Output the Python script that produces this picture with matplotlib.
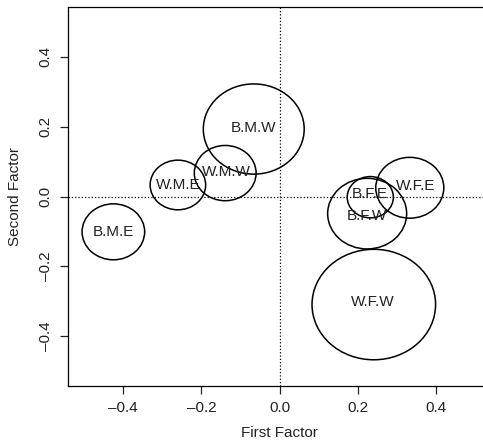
import matplotlib
matplotlib.use("Agg")
import matplotlib.pyplot as plt
from matplotlib.patches import Circle

plt.rcParams['font.family'] = ['Liberation Sans', 'DejaVu Sans']

# group labels, factor scores and circle radii (data units)
labels = ["B.M.E", "W.M.E", "W.M.W", "B.M.W", "B.F.E", "W.F.E", "B.F.W", "W.F.W"]
first_factor = [-0.425, -0.260, -0.139, -0.066, 0.232, 0.333, 0.224, 0.241]
second_factor = [-0.101, 0.033, 0.067, 0.193, -0.002, 0.025, -0.049, -0.309]
radius = [0.080, 0.071, 0.079, 0.129, 0.059, 0.087, 0.101, 0.158]
# where the labels sit (slightly off some circle centres)
label_x = [-0.425, -0.260, -0.135, -0.066, 0.230, 0.349, 0.224, 0.239]
label_y = [-0.101, 0.033, 0.069, 0.195, 0.007, 0.029, -0.057, -0.303]

xticks = [-0.4, -0.2, 0.0, 0.2, 0.4]
yticks = [-0.4, -0.2, 0.0, 0.2, 0.4]

fig = plt.figure(figsize=(4.83, 4.44), dpi=100)
ax = fig.add_axes([0.1408, 0.1306, 0.876, 0.8536])

for x, y, r in zip(first_factor, second_factor, radius):
    ax.add_patch(Circle((x, y), r, fill=False, edgecolor='black', linewidth=1.1))
for x, y, lab in zip(label_x, label_y, labels):
    ax.text(x, y, lab, ha='center', va='center', fontsize=11, color='#222222')

ax.axhline(0, color='black', linestyle=':', linewidth=0.9)
ax.axvline(0, color='black', linestyle=':', linewidth=0.9)

ax.set_xlim(-0.541, 0.541)
ax.set_ylim(-0.542, 0.542)
ax.set_xticks(xticks)
ax.set_yticks(yticks)
ax.set_xticklabels([f"{t:.1f}".replace('-', '\u2013') for t in xticks])
ax.set_yticklabels([f"{t:.1f}".replace('-', '\u2013') for t in yticks],
                   rotation=90, va='center')
ax.tick_params(direction='out', length=6, width=0.9, labelsize=11,
               colors='#222222', pad=5)
for s in ax.spines.values():
    s.set_linewidth(0.9)

ax.set_xlabel("First Factor", fontsize=11, color='#222222', labelpad=8)
ax.set_ylabel("Second Factor", fontsize=11, color='#222222', labelpad=12)

fig.savefig("out.png", dpi=100)
